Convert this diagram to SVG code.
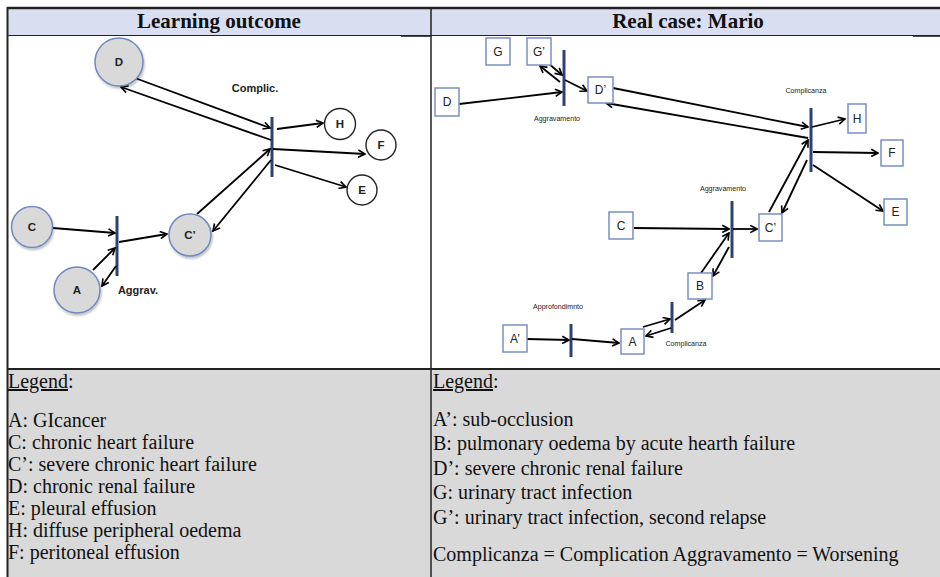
<svg xmlns="http://www.w3.org/2000/svg" width="940" height="577" viewBox="0 0 940 577">
<style>
.gc{fill:#d9d9d9;stroke:#7189bf;stroke-width:1.5}
.wc{fill:#fff;stroke:#222;stroke-width:1.4}
.bx{fill:#fff;stroke:#7a90c2;stroke-width:1.5}
.bar{stroke:#2e4272;stroke-width:3;fill:none}
.cn path{fill:none;stroke:#000;stroke-width:1.8;marker-end:url(#ah)}
.lb{font-family:"Liberation Sans",Arial,sans-serif;font-weight:bold;font-size:11.5px;fill:#222;text-anchor:middle;dominant-baseline:central}
.bl{font-family:"Liberation Sans",Arial,sans-serif;font-size:12px;fill:#222;text-anchor:middle;dominant-baseline:central}
.sm{font-family:"Liberation Sans",Arial,sans-serif;font-size:7.1px;fill:#222;text-anchor:middle;dominant-baseline:central}
.lg{font-family:"Liberation Serif","Times New Roman",serif;font-size:20px;fill:#111}
.hd{font-family:"Liberation Serif","Times New Roman",serif;font-size:21px;font-weight:bold;fill:#111;text-anchor:middle}
.tl{stroke:#222;fill:none}
</style>
<defs>
<marker id="ah" viewBox="0 0 10 10" refX="9" refY="5" markerWidth="5" markerHeight="5" orient="auto" markerUnits="strokeWidth">
<path d="M1.5,1 L9,5 L1.5,9" fill="none" stroke="#000" stroke-width="1.8"/>
</marker>
<filter id="sh" x="-20%" y="-20%" width="150%" height="150%">
<feDropShadow dx="1" dy="2" stdDeviation="1.2" flood-color="#000" flood-opacity="0.25"/>
</filter>
</defs>

<!-- table -->
<g id="table">
<rect x="0" y="0" width="940" height="577" fill="#fff"/>
<rect x="8" y="9" width="932" height="26" fill="#d9dff0"/>
<rect x="8" y="370" width="932" height="207" fill="#d9d9d9"/>
<line class="tl" x1="7" y1="8" x2="940" y2="8" stroke-width="2.5"/>
<line class="tl" x1="7" y1="35.5" x2="940" y2="35.5" stroke-width="1.2"/>
<rect x="401" y="35" width="30" height="1.8" fill="#222"/>
<rect x="913" y="35" width="27" height="1.8" fill="#222"/>
<line class="tl" x1="7.5" y1="7" x2="7.5" y2="577" stroke-width="2"/>
<line class="tl" x1="431" y1="8" x2="431" y2="577" stroke-width="1.5"/>
<line class="tl" x1="7" y1="369" x2="940" y2="369" stroke-width="2"/>
<text class="hd" x="219" y="28">Learning outcome</text>
<text class="hd" x="688" y="28">Real case: Mario</text>
</g>

<!-- left diagram bars -->
<g id="L-bar-complic"><line class="bar" x1="272" y1="117" x2="272" y2="177"/></g>
<g id="L-bar-aggrav"><line class="bar" x1="117" y1="216" x2="117" y2="276"/></g>

<g class="cn" id="L-connectors">
<path d="M135,78 L270,128"/>
<path d="M271,140 L121,87"/>
<path d="M277,129 L323,123"/>
<path d="M273,149 L365,154"/>
<path d="M275,165 L346,187"/>
<path d="M197,214 L270,149"/>
<path d="M271,160 L213,231"/>
<path d="M53,228 L115,233"/>
<path d="M119,242 L167,234"/>
<path d="M93,270 L115,248"/>
<path d="M116,266 L102,286"/>
</g>

<g id="L-D"><circle class="gc" cx="119" cy="62" r="24" filter="url(#sh)"/><text class="lb" x="119" y="62">D</text></g>
<g id="L-C"><circle class="gc" cx="32" cy="227" r="20.5" filter="url(#sh)"/><text class="lb" x="32" y="227">C</text></g>
<g id="L-Cp"><circle class="gc" cx="190" cy="235" r="21" filter="url(#sh)"/><text class="lb" x="190" y="235">C’</text></g>
<g id="L-A"><circle class="gc" cx="77" cy="290" r="23" filter="url(#sh)"/><text class="lb" x="77" y="290">A</text></g>
<g id="L-H"><circle class="wc" cx="340" cy="124" r="15.5"/><text class="lb" x="340" y="124">H</text></g>
<g id="L-F"><circle class="wc" cx="381" cy="145" r="15"/><text class="lb" x="381" y="145">F</text></g>
<g id="L-E"><circle class="wc" cx="362" cy="190" r="15"/><text class="lb" x="362" y="190">E</text></g>
<g id="L-labels">
<text class="lb" x="255" y="88" style="font-size:11px">Complic.</text>
<text class="lb" x="138" y="290" style="font-size:11px">Aggrav.</text>
</g>

<!-- right diagram bars -->
<g id="R-bar1"><line class="bar" x1="564" y1="50" x2="564" y2="106"/></g>
<g id="R-bar2"><line class="bar" x1="811" y1="108" x2="811" y2="172"/></g>
<g id="R-bar3"><line class="bar" x1="732" y1="201" x2="732" y2="258"/></g>
<g id="R-bar4"><line class="bar" x1="571" y1="324" x2="571" y2="357"/></g>
<g id="R-bar5"><line class="bar" x1="672" y1="302" x2="672" y2="333"/></g>

<g class="cn" id="R-connectors">
<path d="M548,63 L562,75"/>
<path d="M560,82 L540,66"/>
<path d="M565,80 L587,91"/>
<path d="M459,104 L562,92"/>
<path d="M613,88 L808,127"/>
<path d="M808,138 L606,103"/>
<path d="M812,127 L845,119"/>
<path d="M813,152 L878,153"/>
<path d="M813,165 L883,211"/>
<path d="M769,212 L808,140"/>
<path d="M807,160 L782,213"/>
<path d="M634,228 L729,229"/>
<path d="M733,229 L757,229"/>
<path d="M701,273 L729,233"/>
<path d="M729,247 L713,276"/>
<path d="M527,339 L569,340"/>
<path d="M572,339 L619,343"/>
<path d="M643,327 L670,319"/>
<path d="M671,328 L646,336"/>
<path d="M675,320 L705,300"/>
</g>

<g id="R-G"><rect class="bx" x="486" y="38" width="24" height="27"/><text class="bl" x="498" y="51.5">G</text></g>
<g id="R-Gp"><rect class="bx" x="527" y="38" width="24" height="27"/><text class="bl" x="539" y="51.5">G’</text></g>
<g id="R-D"><rect class="bx" x="435" y="88" width="24" height="28"/><text class="bl" x="447" y="102">D</text></g>
<g id="R-Dp"><rect class="bx" x="588" y="77" width="25" height="26"/><text class="bl" x="600.5" y="90">D’</text></g>
<g id="R-H"><rect class="bx" x="848" y="104" width="18" height="29"/><text class="bl" x="857" y="118.5">H</text></g>
<g id="R-F"><rect class="bx" x="881" y="140" width="22" height="26"/><text class="bl" x="892" y="153">F</text></g>
<g id="R-E"><rect class="bx" x="884" y="199" width="23" height="26"/><text class="bl" x="895.5" y="212">E</text></g>
<g id="R-C"><rect class="bx" x="609" y="212" width="24" height="27"/><text class="bl" x="621" y="225.5">C</text></g>
<g id="R-Cp"><rect class="bx" x="759" y="214" width="23" height="27"/><text class="bl" x="770.5" y="227.5">C’</text></g>
<g id="R-B"><rect class="bx" x="688" y="273" width="24" height="26"/><text class="bl" x="700" y="286">B</text></g>
<g id="R-Ap"><rect class="bx" x="503" y="325" width="24" height="27"/><text class="bl" x="515" y="338.5">A’</text></g>
<g id="R-A"><rect class="bx" x="621" y="329" width="23" height="25"/><text class="bl" x="632.5" y="341.5">A</text></g>

<g id="R-labels">
<text class="sm" x="557" y="119">Aggravamento</text>
<text class="sm" x="806" y="91">Complicanza</text>
<text class="sm" x="723" y="189">Aggravamento</text>
<text class="sm" x="558" y="307">Approfondimnto</text>
<text class="sm" x="686" y="344">Complicanza</text>
</g>

<!-- legends -->
<g id="legend-left">
<text class="lg" x="8" y="388"><tspan text-decoration="underline">Legend</tspan>:</text>
<text class="lg" x="8" y="427">A: GIcancer</text>
<text class="lg" x="8" y="449">C: chronic heart failure</text>
<text class="lg" x="8" y="471">C’: severe chronic heart failure</text>
<text class="lg" x="8" y="493">D: chronic renal failure</text>
<text class="lg" x="8" y="515">E: pleural effusion</text>
<text class="lg" x="8" y="537">H: diffuse peripheral oedema</text>
<text class="lg" x="8" y="559">F: peritoneal effusion</text>
</g>
<g id="legend-right">
<text class="lg" x="433" y="388"><tspan text-decoration="underline">Legend</tspan>:</text>
<text class="lg" x="433" y="426">A’: sub-occlusion</text>
<text class="lg" x="433" y="450">B: pulmonary oedema by acute hearth failure</text>
<text class="lg" x="433" y="475">D’: severe chronic renal failure</text>
<text class="lg" x="433" y="499">G: urinary tract infection</text>
<text class="lg" x="433" y="524">G’: urinary tract infection, second relapse</text>
<text class="lg" x="433" y="561">Complicanza = Complication Aggravamento = Worsening</text>
</g>
</svg>
